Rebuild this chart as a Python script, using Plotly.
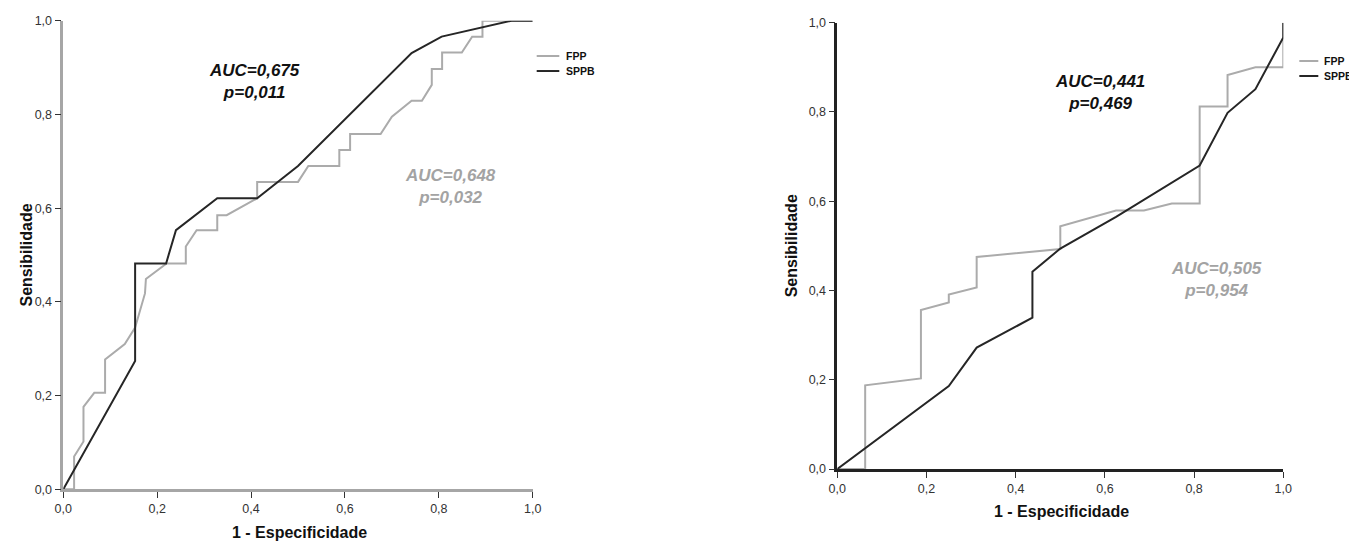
import plotly.graph_objects as go

# ---------------- data ----------------
left_fpp_x = [0, 0.023, 0.023, 0.043, 0.043, 0.066, 0.089, 0.089, 0.131, 0.153, 0.174, 0.176, 0.220,
              0.261, 0.261, 0.284, 0.328, 0.328, 0.348, 0.413, 0.413, 0.500, 0.522, 0.588, 0.588,
              0.611, 0.611, 0.676, 0.700, 0.742, 0.764, 0.785, 0.785, 0.807, 0.807, 0.849, 0.871,
              0.893, 0.893, 1.0]
left_fpp_y = [0, 0, 0.070, 0.102, 0.176, 0.206, 0.206, 0.277, 0.310, 0.345, 0.418, 0.449, 0.482,
              0.482, 0.518, 0.553, 0.553, 0.585, 0.585, 0.621, 0.656, 0.656, 0.690, 0.690, 0.724,
              0.724, 0.758, 0.758, 0.795, 0.829, 0.829, 0.863, 0.897, 0.897, 0.932, 0.932, 0.966,
              0.966, 1.0, 1.0]
left_sppb_x = [0, 0.153, 0.153, 0.219, 0.240, 0.328, 0.413, 0.500, 0.742, 0.806, 0.955, 1.0]
left_sppb_y = [0, 0.274, 0.482, 0.482, 0.553, 0.621, 0.621, 0.690, 0.931, 0.966, 1.0, 1.0]

right_fpp_x = [0, 0.0625, 0.0625, 0.1875, 0.1875, 0.25, 0.25, 0.3125, 0.3125, 0.5, 0.5, 0.625,
               0.6875, 0.75, 0.8125, 0.8125, 0.875, 0.875, 0.9375, 1.0, 1.0]
right_fpp_y = [0, 0, 0.1875, 0.203, 0.356, 0.373, 0.391, 0.407, 0.475, 0.493, 0.544, 0.579,
               0.579, 0.595, 0.595, 0.8125, 0.8125, 0.883, 0.900, 0.900, 1.0]
right_sppb_x = [0, 0.25, 0.3125, 0.4375, 0.4375, 0.5, 0.625, 0.8125, 0.875, 0.9375, 1.0, 1.0]
right_sppb_y = [0, 0.186, 0.272, 0.339, 0.442, 0.494, 0.565, 0.680, 0.798, 0.851, 0.967, 1.0]

series_names = ["FPP", "SPPB"]
left_auc = ["AUC=0,675", "p=0,011", "AUC=0,648", "p=0,032"]
right_auc = ["AUC=0,441", "p=0,469", "AUC=0,505", "p=0,954"]

tick_vals = [0.0, 0.2, 0.4, 0.6, 0.8, 1.0]
tick_text = ["0,0", "0,2", "0,4", "0,6", "0,8", "1,0"]
x_title = "1 - Especificidade"
y_title = "Sensibilidade"

# ---------------- styles ----------------
FONT = "Arial, Liberation Sans, sans-serif"
C_FPP = "#ababab"
C_SPPB = "#262626"
C_TXT_GRAY = "#a3a3a3"
W = 1357
H = 541
OFF = 8  # page body margin


def dx(px):
    return (px - OFF) / W


def dy(py):
    return (H - (py - OFF)) / H


fig = go.Figure()

for xa, ya, fx, fy, sx, sy in [("x", "y", left_fpp_x, left_fpp_y, left_sppb_x, left_sppb_y),
                                ("x2", "y2", right_fpp_x, right_fpp_y, right_sppb_x, right_sppb_y)]:
    fig.add_trace(go.Scatter(x=fx, y=fy, mode="lines", name=series_names[0], xaxis=xa, yaxis=ya,
                             line=dict(color=C_FPP, width=2), showlegend=False, cliponaxis=False))
    fig.add_trace(go.Scatter(x=sx, y=sy, mode="lines", name=series_names[1], xaxis=xa, yaxis=ya,
                             line=dict(color=C_SPPB, width=2), showlegend=False, cliponaxis=False))


def axis(domain, linecolor, anchor):
    return dict(domain=domain, range=[0, 1], anchor=anchor, showgrid=False, zeroline=False,
                showline=True, linecolor=linecolor, linewidth=2.5, ticks="outside", ticklen=6,
                tickwidth=1.3, tickcolor="#333333", tickvals=tick_vals, ticktext=tick_text,
                tickfont=dict(family=FONT, size=12.5, color="#333333"), fixedrange=True,
                automargin=False)


fig.update_layout(
    width=W, height=H,
    margin=dict(l=0, r=0, t=0, b=0, pad=0, autoexpand=False),
    paper_bgcolor="white", plot_bgcolor="white",
    showlegend=False,
    xaxis=axis([dx(63.3), dx(532.7)], "#a6a6a6", "y"),
    yaxis=axis([dy(489.3), dy(20.7)], "#a6a6a6", "x"),
    xaxis2=axis([dx(837.3), dx(1283.3)], "#222222", "y2"),
    yaxis2=axis([dy(469.0), dy(22.7)], "#222222", "x2"),
)

annotations = []


def txt(xref, yref, x, y, text, size, color, italic=False, angle=0, xanchor="center"):
    t = "<b><i>%s</i></b>" % text if italic else "<b>%s</b>" % text
    annotations.append(dict(xref=xref, yref=yref, x=x, y=y, text=t, showarrow=False,
                            xanchor=xanchor, yanchor="middle", textangle=angle, align="center",
                            font=dict(family=FONT, size=size, color=color)))


# AUC texts (two lines each)
txt("x", "y", 0.407, 0.870, left_auc[0] + "<br>" + left_auc[1], 17, "#111111", italic=True)
txt("x", "y", 0.824, 0.647, left_auc[2] + "<br>" + left_auc[3], 17, C_TXT_GRAY, italic=True)
txt("x2", "y2", 0.590, 0.844, right_auc[0] + "<br>" + right_auc[1], 17, "#111111", italic=True)
txt("x2", "y2", 0.851, 0.4246, right_auc[2] + "<br>" + right_auc[3], 17, C_TXT_GRAY, italic=True)

# axis titles
txt("x domain", "y domain", 0.503, -0.093, x_title, 16, "#111111")
txt("x domain", "y domain", -0.0805, 0.5, y_title, 16, "#111111", angle=-90)
txt("x2 domain", "y2 domain", 0.5027, -0.096, x_title, 16, "#111111")
txt("x2 domain", "y2 domain", -0.1027, 0.5, y_title, 16, "#111111", angle=-90)

# legends (manual)
legend_specs = [("x domain", "y domain", 1.0085, 1.0567, 1.0660, [0.9247, 0.8926]),
                ("x2 domain", "y2 domain", 1.0359, 1.0785, 1.0870, [0.9142, 0.8806])]
for xr, yr, lx0, lx1, tx, ys in legend_specs:
    for name, col, yy in zip(series_names, [C_FPP, C_SPPB], ys):
        fig.add_shape(type="line", xref=xr, yref=yr, x0=lx0, x1=lx1, y0=yy, y1=yy,
                      line=dict(color=col, width=2))
        txt(xr, yr, tx, yy, name, 10.5, "#111111", xanchor="left")

fig.update_layout(annotations=annotations)
fig.write_html("out.html")
